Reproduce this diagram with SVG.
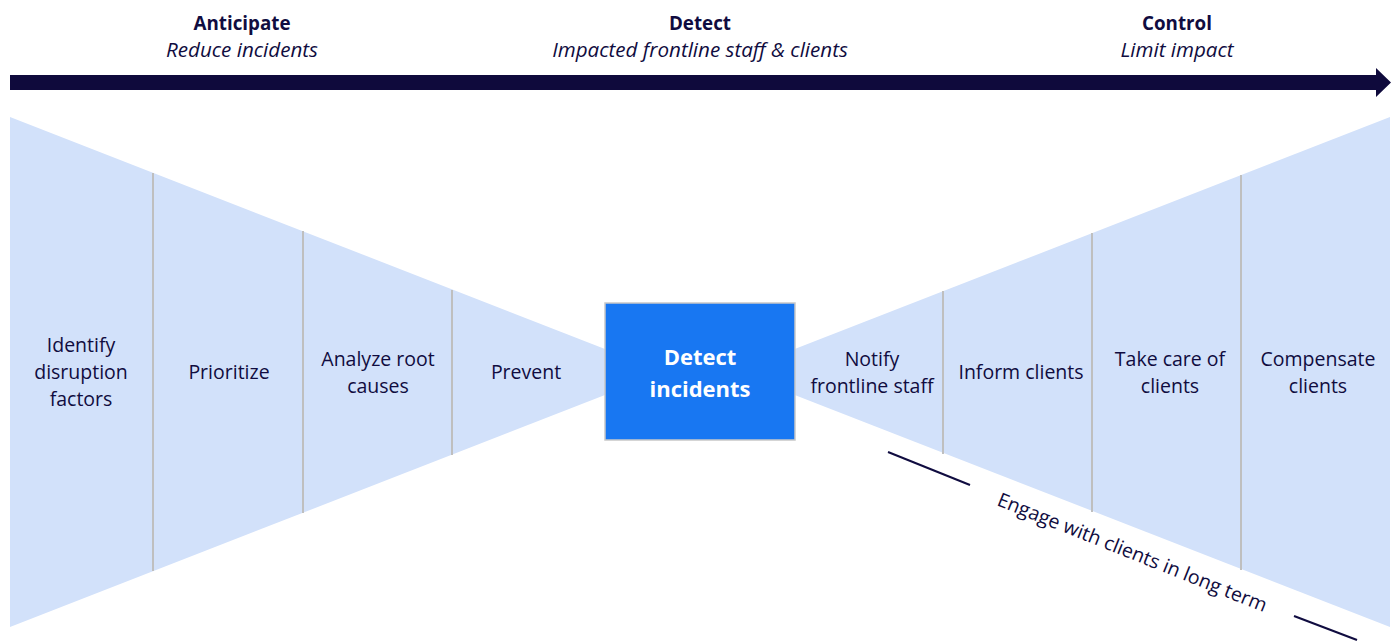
<svg xmlns="http://www.w3.org/2000/svg" width="1397" height="641" viewBox="0 0 1397 641">
<style>
.t{font-family:"Open Sans","Liberation Sans",sans-serif;font-size:19.5px;fill:#100C40;text-anchor:middle}
.h{font-weight:bold;font-size:18.8px}
.i{font-style:italic;font-size:20.6px}
.fan{fill:#D2E1FA}
.div{stroke:#BFBFBF;stroke-width:2}
.dash{stroke:#100C40;stroke-width:2}
</style>
<rect width="1397" height="641" fill="#fff"/>
<g id="header">
<text class="t h" x="242" y="30">Anticipate</text>
<text class="t i" x="242" y="57">Reduce incidents</text>
<text class="t h" x="700" y="30">Detect</text>
<text class="t i" x="700" y="57">Impacted frontline staff &amp; clients</text>
<text class="t h" x="1177" y="30">Control</text>
<text class="t i" x="1177" y="57">Limit impact</text>
</g>
<g id="timeline">
<polygon points="10,75 1376,75 1376,68 1391,82.5 1376,97 1376,90 10,90" fill="#0F0A3C"/>
</g>
<g id="left-fan">
<polygon class="fan" points="10,117 664,372 10,627"/>
<line class="div" x1="153" y1="173" x2="153" y2="571"/>
<line class="div" x1="303" y1="231" x2="303" y2="513"/>
<line class="div" x1="452" y1="290" x2="452" y2="455"/>
</g>
<g id="right-fan">
<polygon class="fan" points="1390,117 736,372 1390,627"/>
<line class="div" x1="943" y1="291" x2="943" y2="454"/>
<line class="div" x1="1092" y1="233" x2="1092" y2="512"/>
<line class="div" x1="1241" y1="175" x2="1241" y2="570"/>
</g>
<g id="identify"><text class="t" x="81" y="352">Identify</text><text class="t" x="81" y="379">disruption</text><text class="t" x="81" y="406">factors</text></g>
<g id="prioritize"><text class="t" x="229" y="379">Prioritize</text></g>
<g id="analyze"><text class="t" x="378" y="366">Analyze root</text><text class="t" x="378" y="393">causes</text></g>
<g id="prevent"><text class="t" x="526" y="379">Prevent</text></g>
<g id="detect">
<rect x="605" y="303" width="190" height="137" fill="#1877F2" stroke="#C8C8C8" stroke-width="1.5"/>
<text class="t" x="700" y="365" style="font-size:22px;font-weight:bold;fill:#fff">Detect</text>
<text class="t" x="700" y="397" style="font-size:22px;font-weight:bold;fill:#fff">incidents</text>
</g>
<g id="notify"><text class="t" x="872" y="366">Notify</text><text class="t" x="872" y="393">frontline staff</text></g>
<g id="inform"><text class="t" x="1021" y="379">Inform clients</text></g>
<g id="takecare"><text class="t" x="1170" y="366">Take care of</text><text class="t" x="1170" y="393">clients</text></g>
<g id="compensate"><text class="t" x="1318" y="366">Compensate</text><text class="t" x="1318" y="393">clients</text></g>
<g id="engage">
<line class="dash" x1="888" y1="452" x2="970" y2="485"/>
<line class="dash" x1="1294" y1="616" x2="1357" y2="640"/>
<text class="t" transform="translate(1132,553) rotate(21.8)" y="6">Engage with clients in long term</text>
</g>
</svg>
